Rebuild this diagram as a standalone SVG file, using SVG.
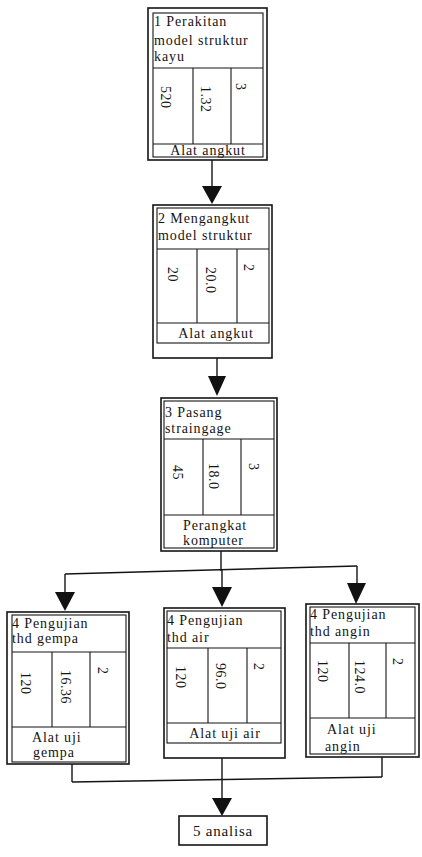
<svg xmlns="http://www.w3.org/2000/svg" width="422" height="857" viewBox="0 0 422 857">
<style>
.frame{fill:none;stroke:#141414;stroke-width:1.6}
.inner{fill:none;stroke:#141414;stroke-width:1.1}
.ln{stroke:#141414;stroke-width:1.1;fill:none}
.conn line,.conn polyline{stroke:#141414;stroke-width:1.4;fill:none}
.conn polygon{fill:#111;stroke:none}
text{font-family:"Liberation Serif","Times New Roman",serif;fill:#141414}
.h{font-size:14px;letter-spacing:0.9px}
.n{font-size:14px;letter-spacing:0.5px}
.c{text-anchor:middle}
</style>
<rect width="422" height="857" fill="#fff"/>

<g id="node1">
<rect class="frame" x="148" y="8" width="119" height="152"/>
<rect class="inner" x="153" y="13" width="110" height="144"/>
<line class="ln" x1="153" y1="68" x2="263" y2="68"/>
<line class="ln" x1="193" y1="68" x2="193" y2="144"/>
<line class="ln" x1="231" y1="68" x2="231" y2="144"/>
<line class="ln" x1="153" y1="144" x2="263" y2="144"/>
<text class="h" x="154" y="26">1 Perakitan</text>
<text class="h" x="154" y="45">model struktur</text>
<text class="h" x="154" y="61">kayu</text>
<text class="n" transform="translate(161,86) rotate(90)">520</text>
<text class="n" transform="translate(201,86) rotate(90)">1.32</text>
<text class="n" transform="translate(236,83) rotate(90)">3</text>
<text class="h c" x="208" y="155">Alat angkut</text>
</g>

<g id="node2">
<rect class="frame" x="153" y="205" width="119" height="153"/>
<rect class="inner" x="157" y="208" width="112" height="135"/>
<line class="ln" x1="157" y1="249" x2="269" y2="249"/>
<line class="ln" x1="197" y1="249" x2="197" y2="323"/>
<line class="ln" x1="237" y1="249" x2="237" y2="323"/>
<line class="ln" x1="157" y1="323" x2="269" y2="323"/>
<text class="h" x="158" y="223">2 Mengangkut</text>
<text class="h" x="158" y="240">model struktur</text>
<text class="n" transform="translate(167.5,267) rotate(90)">20</text>
<text class="n" transform="translate(205.5,267) rotate(90)">20.0</text>
<text class="n" transform="translate(243.5,264) rotate(90)">2</text>
<text class="h c" x="216" y="338">Alat angkut</text>
</g>

<g id="node3">
<rect class="frame" x="161" y="398" width="116" height="153"/>
<rect class="inner" x="164" y="401" width="110" height="147"/>
<line class="ln" x1="164" y1="439" x2="274" y2="439"/>
<line class="ln" x1="203" y1="439" x2="203" y2="515"/>
<line class="ln" x1="241" y1="439" x2="241" y2="515"/>
<line class="ln" x1="164" y1="515" x2="274" y2="515"/>
<text class="h" x="165" y="417">3 Pasang</text>
<text class="h" x="165" y="433">straingage</text>
<text class="n" transform="translate(172.5,465) rotate(90)">45</text>
<text class="n" transform="translate(208.5,463) rotate(90)">18.0</text>
<text class="n" transform="translate(248.5,463) rotate(90)">3</text>
<text class="h" x="183" y="530">Perangkat</text>
<text class="h" x="183" y="545">komputer</text>
</g>

<g id="node4a">
<rect class="frame" x="7" y="612" width="122" height="152"/>
<rect class="inner" x="12" y="615" width="114" height="147"/>
<line class="ln" x1="12" y1="652" x2="126" y2="652"/>
<line class="ln" x1="52" y1="652" x2="52" y2="727"/>
<line class="ln" x1="90" y1="652" x2="90" y2="727"/>
<line class="ln" x1="12" y1="727" x2="126" y2="727"/>
<text class="h" x="12" y="628">4 Pengujian</text>
<text class="h" x="12" y="643">thd gempa</text>
<text class="n" transform="translate(20.5,672) rotate(90)">120</text>
<text class="n" transform="translate(60.5,670) rotate(90)">16.36</text>
<text class="n" transform="translate(97.5,667) rotate(90)">2</text>
<text class="h" x="32" y="742">Alat uji</text>
<text class="h" x="33" y="757">gempa</text>
</g>

<g id="node4b">
<rect class="frame" x="164" y="608" width="121" height="150"/>
<rect class="inner" x="167" y="611" width="114" height="132"/>
<line class="ln" x1="167" y1="648" x2="281" y2="648"/>
<line class="ln" x1="208" y1="648" x2="208" y2="723"/>
<line class="ln" x1="247" y1="648" x2="247" y2="723"/>
<line class="ln" x1="167" y1="723" x2="281" y2="723"/>
<text class="h" x="167" y="625">4 Pengujian</text>
<text class="h" x="167" y="642">thd air</text>
<text class="n" transform="translate(175.5,666) rotate(90)">120</text>
<text class="n" transform="translate(215.5,663) rotate(90)">96.0</text>
<text class="n" transform="translate(253.5,663) rotate(90)">2</text>
<text class="h c" x="225" y="738">Alat uji air</text>
</g>

<g id="node4c">
<rect class="frame" x="306" y="604" width="113" height="153"/>
<rect class="inner" x="310" y="607" width="105" height="147"/>
<line class="ln" x1="310" y1="643" x2="415" y2="643"/>
<line class="ln" x1="349" y1="643" x2="349" y2="718"/>
<line class="ln" x1="386" y1="643" x2="386" y2="718"/>
<line class="ln" x1="310" y1="718" x2="415" y2="718"/>
<text class="h" x="310" y="619">4 Pengujian</text>
<text class="h" x="310" y="636">thd angin</text>
<text class="n" transform="translate(317.5,660) rotate(90)">120</text>
<text class="n" transform="translate(354.5,660) rotate(90)">124.0</text>
<text class="n" transform="translate(392.5,658) rotate(90)">2</text>
<text class="h" x="327" y="734">Alat uji</text>
<text class="h" x="325" y="751">angin</text>
</g>

<g id="node5">
<rect class="frame" x="179" y="816" width="88" height="29"/>
<text class="c" x="223" y="836" style="font-size:15px;letter-spacing:0.8px">5 analisa</text>
</g>

<g id="connectors" class="conn">
<line x1="212" y1="160" x2="212" y2="187"/>
<polygon points="202,186 222,186 212,204"/>
<line x1="217" y1="358" x2="217" y2="377"/>
<polygon points="208,376 226,376 217,396"/>
<line x1="221" y1="551" x2="221" y2="571"/>
<line x1="65" y1="574" x2="357" y2="566"/>
<line x1="65" y1="574" x2="65" y2="593"/>
<polygon points="55,592 75,592 65,611"/>
<line x1="222" y1="570" x2="222" y2="588"/>
<polygon points="212,587 232,587 222,607"/>
<line x1="357" y1="566" x2="357" y2="584"/>
<polygon points="347,583 366,583 356,604"/>
<line x1="72" y1="764" x2="72" y2="782"/>
<line x1="222" y1="758" x2="222" y2="799"/>
<line x1="382" y1="757" x2="382" y2="777"/>
<line x1="72" y1="782" x2="382" y2="777"/>
<polygon points="212,798 232,798 222,816"/>
</g>
</svg>
